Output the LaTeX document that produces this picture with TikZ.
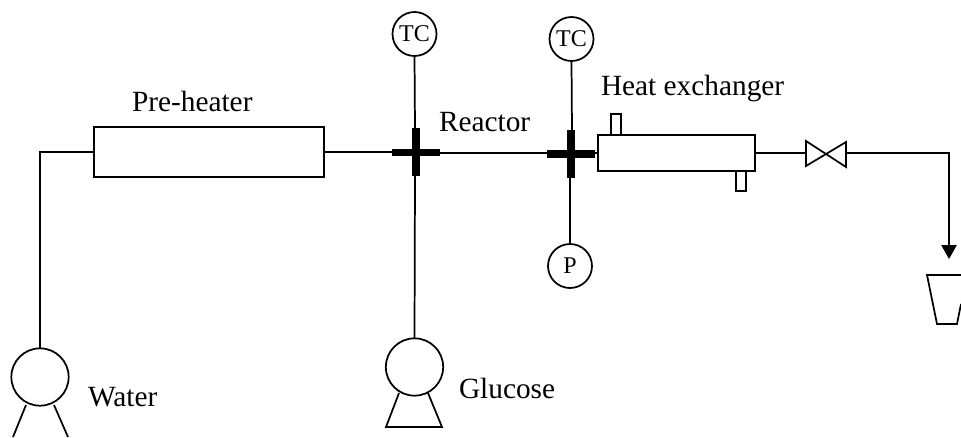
\documentclass[tikz,border=0pt]{standalone}
\usepackage{fontspec}
\setmainfont{Liberation Serif}
\usetikzlibrary{arrows.meta}
\tikzset{
  pipe/.style={line width=1.3pt,draw=black},
  equip/.style={draw=black,line width=1.3pt,inner sep=0pt,outer sep=0pt,rectangle},
  instr/.style={draw=black,line width=1.3pt,circle,inner sep=0pt,outer sep=0pt,minimum size=33pt,font=\fontsize{18}{20}\selectfont},
  pumphead/.style={draw=black,line width=1.3pt,circle,inner sep=0pt,outer sep=0pt,minimum size=43pt},
  crossbar/.style={line width=5.5pt,draw=black},
  lbl/.style={anchor=base west,inner sep=0pt,outer sep=0pt,font=\fontsize{22}{24}\selectfont},
}
\begin{document}
\begin{tikzpicture}[x=0.75pt,y=-0.75pt]
\useasboundingbox (0,0) rectangle (961,437);
% equipment
\node[equip,minimum width=173pt,minimum height=37pt] (pre) at (209,152) {};
\node[equip,minimum width=118pt,minimum height=27pt] (hx) at (676.5,153) {};
\node[equip,minimum width=7.5pt,minimum height=16pt,anchor=south] (stubT) at (616,135) {};
\node[equip,minimum width=7.5pt,minimum height=15pt,anchor=north] (stubB) at (741,171) {};
% instruments
\node[instr] (tc1) at (414.5,34) {TC};
\node[instr] (tc2) at (571.5,39) {TC};
\node[instr] (pg) at (570,266) {P};
\node[pumphead] (pw) at (40,377) {};
\node[pumphead] (pg2) at (414.5,367) {};
% junctions
\coordinate (c1) at (416,153);
\coordinate (c2) at (571,153);
\coordinate (corner1) at (40,152);
\coordinate (barL) at (392,152);
\coordinate (vL) at (806,153);
\coordinate (vR) at (846,153);
\coordinate (corner2) at (949,153);
\coordinate (tip) at (949,259);
% pipes
\draw[pipe,line join=miter] (pw.north) -- (corner1) -- (pre.west);
\draw[pipe] (pre.east) -- (barL);
\draw[pipe] (c1) -- (c2);
\draw[pipe] (c2) -- (hx.west);
\draw[pipe] (tc1.south) -- (415,128);
\draw[pipe] (pg2.north) -- (415,176);
\draw[pipe] (tc2.south) -- (572,130);
\draw[pipe] (pg.north) -- (570,178);
\draw[pipe] (hx.east) -- (vL);
\draw[pipe,-{Triangle[length=10.5pt,width=11.5pt]}] (vR) -- (corner2) -- (tip);
% crosses
\draw[crossbar] (392,152.7) -- (440,152.7);
\draw[crossbar] (416,128) -- (416,176);
\draw[crossbar] (547,154) -- (595,154);
\draw[crossbar] (571,130) -- (571,178);
% valve
\draw[pipe,line join=miter] (806,141) -- (846,167) -- (846,142) -- (806,166) -- cycle;
% pump feet
\draw[pipe] (26,405) -- (13,437);
\draw[pipe] (54,405) -- (68,437);
\draw[pipe] (399,393) -- (386,427) -- (442,427) -- (428,393);
% collection vessel
\draw[pipe] (961,275) -- (927,275) -- (937,324) -- (957,324) -- (961,304);
% labels
\node[lbl] (t1) at (132,111) {Pre-heater};
\node[lbl] (t2) at (439,131) {Reactor};
\node[lbl] (t3) at (601,95) {Heat exchanger};
\node[lbl] (t4) at (88,406) {Water};
\node[lbl] (t5) at (459,398) {Glucose};
\end{tikzpicture}
\end{document}
